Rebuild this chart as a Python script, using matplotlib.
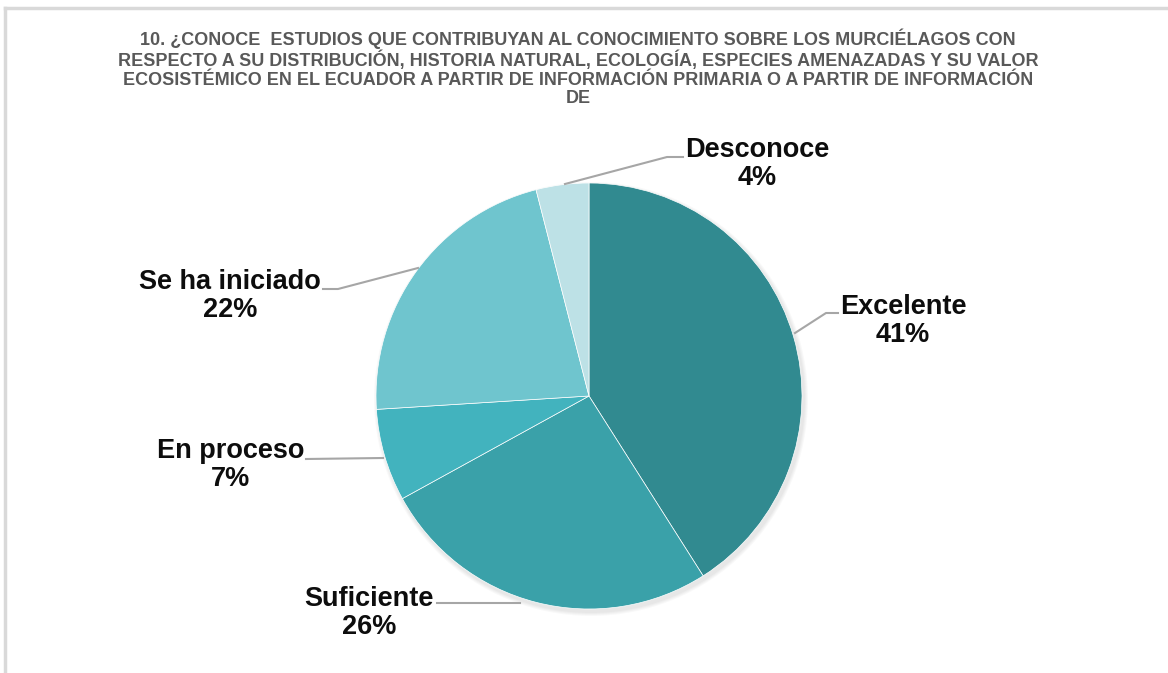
import matplotlib
matplotlib.use("Agg")
import matplotlib.pyplot as plt
from matplotlib.lines import Line2D

categories = ["Excelente", "Suficiente", "En proceso", "Se ha iniciado", "Desconoce"]
values = [41, 26, 7, 22, 4]
colors = ["#318A90", "#3AA1A9", "#42B3BE", "#6FC5CE", "#BDE1E6"]
title = ("10. ¿CONOCE  ESTUDIOS QUE CONTRIBUYAN AL CONOCIMIENTO SOBRE LOS MURCIÉLAGOS CON\n"
         "RESPECTO A SU DISTRIBUCIÓN, HISTORIA NATURAL, ECOLOGÍA, ESPECIES AMENAZADAS Y SU VALOR\n"
         "ECOSISTÉMICO EN EL ECUADOR A PARTIR DE INFORMACIÓN PRIMARIA O A PARTIR DE INFORMACIÓN\n"
         "DE")

W, H = 1168, 673
fig = plt.figure(figsize=(W / 100, H / 100), dpi=100)
ax = fig.add_axes([0, 0, 1, 1])

def Y(y):
    return H - y

cx, cy, r = 589, Y(396), 213
# soft shadow
for i in range(4):
    circ = plt.Circle((cx + 2, cy - 3), r + 4 - i, color="black", alpha=0.025, lw=0)
    ax.add_patch(circ)

ax.pie(values, colors=colors, startangle=90, counterclock=False,
       center=(cx, cy), radius=r, frame=True,
       wedgeprops=dict(edgecolor="white", linewidth=0.5))
ax.set_xlim(0, W)
ax.set_ylim(0, H)
ax.set_aspect("auto")
ax.axis("off")

# border (top and left)
ax.add_line(Line2D([5, W], [Y(8), Y(8)], color="#D9D9D9", lw=2.5))
ax.add_line(Line2D([5, 5], [Y(8), 0], color="#D9D9D9", lw=2.5))

# labels: (text center x, block center y, leader points)
label_pos = {
    "Excelente": (903, 321, [(795, 333), (826, 313), (838, 313)]),
    "Suficiente": (369, 613, [(437, 603), (520, 603)]),
    "En proceso": (231, 465, [(306, 459), (383, 458)]),
    "Se ha iniciado": (230, 296, [(323, 289), (338, 289), (418, 268)]),
    "Desconoce": (757, 164, [(565, 184), (667, 157), (683, 157)]),
}
for cat, val in zip(categories, values):
    tx, ty, pts = label_pos[cat]
    ax.text(tx, Y(ty), f"{cat}\n{val}%", ha="center", va="center",
            fontsize=19.5, fontweight="bold", family="Liberation Sans",
            color="#0D0D0D", linespacing=1.08)
    ax.add_line(Line2D([p[0] for p in pts], [Y(p[1]) for p in pts],
                       color="#A6A6A6", lw=1.5))

ax.text(578, Y(68), title, ha="center", va="center", fontsize=13,
        fontweight="bold", family="Liberation Sans", color="#595959",
        linespacing=1.1)

fig.savefig("out.png", dpi=100)
